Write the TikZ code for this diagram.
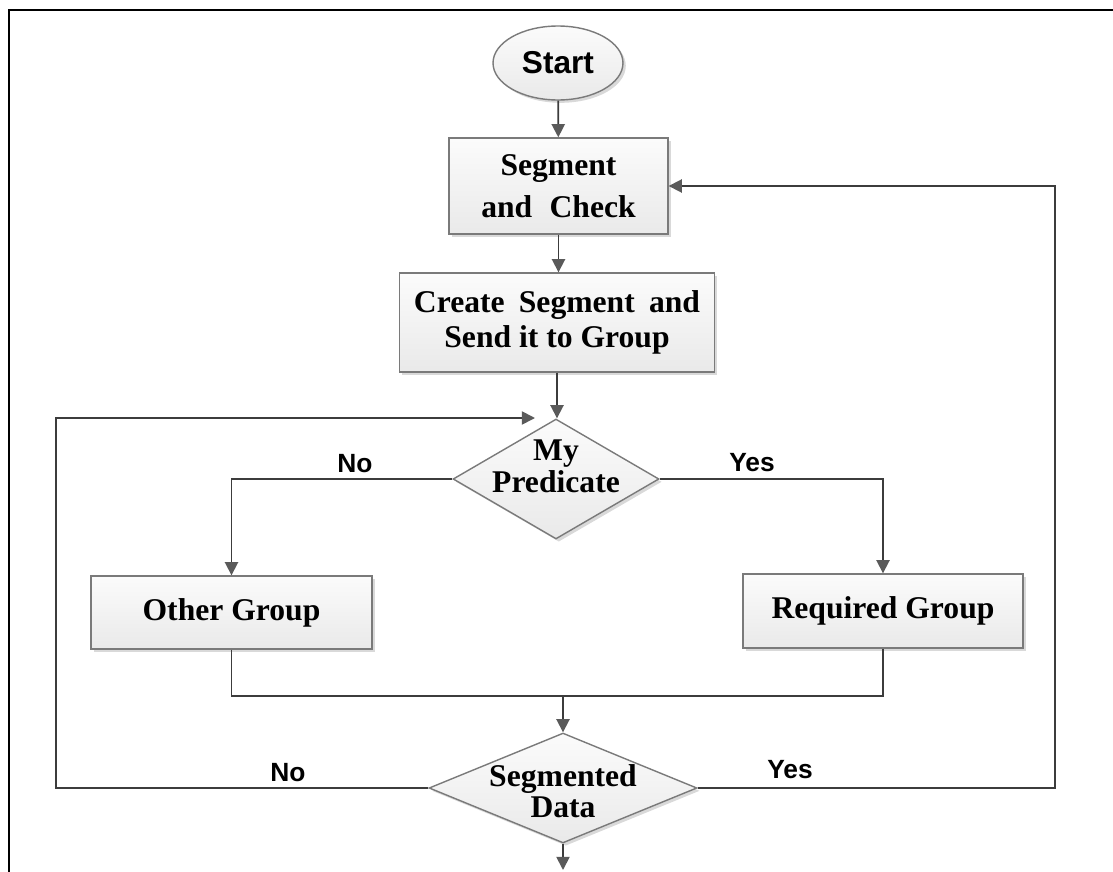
\documentclass[tikz,border=0pt]{standalone}
\usepackage{fontspec}
\setmainfont{Liberation Serif}
\newfontfamily\arialfam{Liberation Sans}
\usetikzlibrary{shapes.geometric,arrows.meta,shadows,calc}
\definecolor{lncol}{HTML}{3C3C3C}
\definecolor{arcol}{HTML}{5A5A5A}
\definecolor{bdcol}{HTML}{7A7A7A}
\begin{document}
\begin{tikzpicture}[x=0.02cm,y=-0.02cm,
  shp/.style={draw=bdcol, line width=0.8pt, top color=gray!3, bottom color=gray!17,
    drop shadow={shadow xshift=1.6pt, shadow yshift=-1.6pt, opacity=0.3}, inner sep=0pt},
  box/.style={shp, rectangle, align=center, font=\fontsize{18}{22}\selectfont\bfseries},
  dia/.style={shp, diamond},
  dtext/.style={align=center, font=\fontsize{18}{18}\selectfont\bfseries},
  lbl/.style={font=\arialfam\fontsize{15}{17}\selectfont\bfseries},
  ln/.style={draw=lncol, line width=1pt},
  arr/.style={ln, -{Triangle[length=7.5pt,width=7.5pt,color=arcol]}}
]
\useasboundingbox (0,0) rectangle (1113,872);
\draw[line width=1.7pt, black] (1113,10) -- (9,10) -- (9,872);

% nodes
\node[shp, ellipse, minimum width=2.6cm, minimum height=1.48cm,
      font=\arialfam\fontsize{18}{20}\selectfont\bfseries] (start) at (558,63) {Start};
\node[box, minimum width=4.38cm, minimum height=1.92cm] (seg) at (558.5,186)
  {Segment\\[2pt] and\hspace{0.3em} Check};
\node[box, minimum width=6.3cm, minimum height=1.98cm, font=\fontsize{18}{20}\selectfont\bfseries] (create) at (557,322.5)
  {Create\hspace{0.2em} Segment\hspace{0.2em} and\\Send it to Group};
\node[dia, minimum width=4.12cm, minimum height=2.4cm] (d1) at (556,479) {};
\node[dtext] (d1t) at (556,466) {My\\Predicate};
\node[box, minimum width=5.62cm, minimum height=1.46cm] (other) at (231.5,612.5) {Other Group};
\node[box, minimum width=5.6cm, minimum height=1.48cm] (req) at (883,611) {Required Group};
\node[dia, minimum width=5.36cm, minimum height=2.2cm] (d2) at (563,788) {};
\node[dtext, font=\fontsize{18}{17.5}\selectfont\bfseries] (d2t) at (563,791) {Segmented\\Data};

% labels
\node[lbl] (no1) at (355,464) {No};
\node[lbl] (yes1) at (752,463) {Yes};
\node[lbl] (no2) at (288,773) {No};
\node[lbl] (yes2) at (790,770) {Yes};

% coordinates
\coordinate (mrg) at (563,696);
\coordinate (out) at (563,870);
\coordinate (rtop) at (1055,186);
\coordinate (ltop) at (56,418);
\coordinate (lend) at (535,418);

% connectors
\draw[arr] (start) -- (seg);
\draw[arr] (seg.south) -- (seg.south |- create.north);
\draw[arr] (create.south) -- (create.south |- d1.north);
\draw[arr] (d1.west) -| (other.north);
\draw[arr] (d1.east) -| (req.north);
\draw[ln] (other.south) -- (other.south |- mrg) -- (req.south |- mrg) -- (req.south);
\draw[arr] (mrg) -- (d2.north);
\draw[arr] (d2.south) -- (out);
\draw[arr] (d2.east) -| (rtop) -- (seg.east);
\draw[arr] (d2.west) -| (ltop) -- (lend);
\end{tikzpicture}
\end{document}
